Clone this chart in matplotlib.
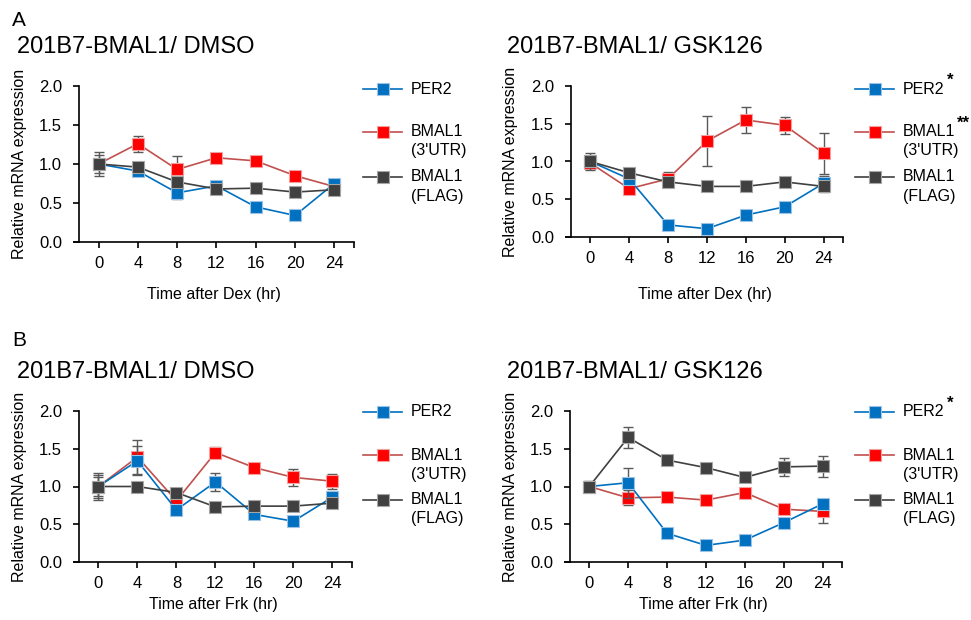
import matplotlib
matplotlib.use('Agg')
import matplotlib.pyplot as plt
from matplotlib.lines import Line2D

plt.rcParams['font.family'] = ['Liberation Sans', 'DejaVu Sans']

W, H = 971, 620

time_hr = [0, 4, 8, 12, 16, 20, 24]
series_names = ['PER2', 'BMAL1\n(3\'UTR)', 'BMAL1\n(FLAG)']

# panel A, DMSO
a_dmso_per2 = [1.00, 0.91, 0.63, 0.72, 0.45, 0.34, 0.75]
a_dmso_per2_err = [0.03, 0.07, 0.08, 0.03, 0.03, 0.03, 0.05]
a_dmso_utr = [1.00, 1.26, 0.93, 1.08, 1.04, 0.85, 0.71]
a_dmso_utr_err = [0.16, 0.10, 0.17, 0.04, 0.03, 0.05, 0.03]
a_dmso_flag = [1.00, 0.96, 0.77, 0.68, 0.69, 0.64, 0.67]
a_dmso_flag_err = [0.11, 0.03, 0.03, 0.03, 0.02, 0.03, 0.04]

# panel A, GSK126
a_gsk_per2 = [1.00, 0.77, 0.16, 0.11, 0.29, 0.40, 0.71]
a_gsk_per2_err = [0.03, 0.03, 0.03, 0.02, 0.03, 0.04, 0.10]
a_gsk_utr = [0.98, 0.64, 0.77, 1.27, 1.55, 1.48, 1.11]
a_gsk_utr_err = [0.08, 0.04, 0.09, 0.33, 0.17, 0.11, 0.27]
a_gsk_flag = [1.00, 0.85, 0.73, 0.67, 0.67, 0.73, 0.67]
a_gsk_flag_err = [0.11, 0.04, 0.03, 0.02, 0.02, 0.03, 0.07]

# panel B, DMSO
b_dmso_per2 = [1.00, 1.34, 0.69, 1.06, 0.63, 0.54, 0.86]
b_dmso_per2_err = [0.15, 0.19, 0.05, 0.12, 0.03, 0.03, 0.04]
b_dmso_utr = [1.00, 1.39, 0.81, 1.45, 1.25, 1.12, 1.07]
b_dmso_utr_err = [0.18, 0.22, 0.05, 0.07, 0.05, 0.11, 0.10]
b_dmso_flag = [1.00, 1.00, 0.92, 0.73, 0.74, 0.74, 0.78]
b_dmso_flag_err = [0.13, 0.02, 0.03, 0.02, 0.02, 0.02, 0.05]

# panel B, GSK126
b_gsk_per2 = [1.00, 1.05, 0.38, 0.22, 0.29, 0.52, 0.77]
b_gsk_per2_err = [0.03, 0.20, 0.04, 0.02, 0.02, 0.03, 0.04]
b_gsk_utr = [1.00, 0.85, 0.86, 0.82, 0.92, 0.70, 0.67]
b_gsk_utr_err = [0.03, 0.10, 0.03, 0.02, 0.03, 0.05, 0.15]
b_gsk_flag = [1.00, 1.65, 1.35, 1.25, 1.12, 1.26, 1.27]
b_gsk_flag_err = [0.07, 0.14, 0.03, 0.03, 0.03, 0.12, 0.14]

# (line colour, marker face, marker edge)
STYLES = {
    'per2': ('#0070C0', '#0070C0', '#9cc3e6'),
    'utr': ('#C0504D', '#FF0000', '#f2a0a0'),
    'flag': ('#404040', '#404040', '#a6a6a6'),
}
ERR_COLOR = '#595959'
MS = 8.2


def px(x, y):
    return x / W, 1 - y / H


def draw_panel(rect, per2, per2_err, utr, utr_err, flag, flag_err, xlabel, xlabel_y, ylabel_x):
    ax = fig.add_axes(rect)
    # draw order: red, blue, grey on top
    for key, vals, errs, z in [('utr', utr, utr_err, 3), ('per2', per2, per2_err, 4),
                               ('flag', flag, flag_err, 5)]:
        lc, mfc, mec = STYLES[key]
        ax.errorbar(time_hr, vals, yerr=errs, fmt='none', ecolor=ERR_COLOR,
                    elinewidth=1.0, capsize=3.5, capthick=1.0, zorder=z - 0.5)
        ax.plot(time_hr, vals, color=lc, lw=1.2, marker='s', ms=MS,
                mfc=mfc, mec=mec, mew=0.8, zorder=z)
    ax.set_xlim(-2.5, 26)
    ax.set_ylim(0, 2.0)
    ax.set_xticks(time_hr + [26])
    ax.set_xticklabels([str(t) for t in time_hr] + [''])
    ax.set_yticks([0, 0.5, 1.0, 1.5, 2.0])
    ax.set_yticklabels(['0.0', '0.5', '1.0', '1.5', '2.0'])
    for s in ['top', 'right']:
        ax.spines[s].set_visible(False)
    ax.spines['left'].set_position(('data', -2))
    ax.spines['left'].set_linewidth(1.2)
    ax.spines['bottom'].set_linewidth(1.2)
    ax.tick_params(axis='x', direction='out', length=4, width=1.2, pad=6, labelsize=12)
    ax.tick_params(axis='y', direction='out', length=4, width=1.2, pad=8, labelsize=12)
    ax.patch.set_alpha(0)
    bb = ax.get_position()
    cx = (bb.x0 + bb.x1) / 2
    fig.text(cx, 1 - xlabel_y / H, xlabel, ha='center', va='center', fontsize=11.5)
    fig.text(ylabel_x / W, (bb.y0 + bb.y1) / 2, 'Relative mRNA expression',
             rotation=90, ha='center', va='center', fontsize=11.5)
    return ax


def draw_legend(x0, y0, stars=('', '', '')):
    renderer = fig.canvas.get_renderer()
    ys = [y0, y0 + 43, y0 + 88]
    for key, y, name, star in zip(['per2', 'utr', 'flag'], ys, series_names, stars):
        lc, mfc, mec = STYLES[key]
        fx0, fy = px(x0, y)
        fx1, _ = px(x0 + 39, y)
        fig.add_artist(Line2D([fx0, fx1], [fy, fy], color=lc, lw=1.2,
                              transform=fig.transFigure))
        fig.add_artist(Line2D([(fx0 + fx1) / 2], [fy], marker='s', ms=MS, mfc=mfc,
                              mec=mec, mew=0.8, transform=fig.transFigure))
        lines = name.split('\n')
        tx, ty = px(x0 + 48, y)
        t = fig.text(tx, ty, lines[0], ha='left', va='center', fontsize=11.5)
        if len(lines) > 1:
            fig.text(tx, 1 - (y + 19) / H, lines[1], ha='left', va='center', fontsize=11.5)
        if star:
            ext = t.get_window_extent(renderer)
            fig.text((ext.x1 + 2) / W, 1 - (y - 9) / H, star, ha='left', va='center',
                     fontsize=12, fontweight='bold')


fig = plt.figure(figsize=(W / 100, H / 100), dpi=100)

draw_panel([74 / W, (H - 242) / H, 280 / W, 156 / H],
           a_dmso_per2, a_dmso_per2_err, a_dmso_utr, a_dmso_utr_err,
           a_dmso_flag, a_dmso_flag_err, 'Time after Dex (hr)', 295, 20)
draw_panel([566 / W, (H - 237) / H, 277 / W, 151 / H],
           a_gsk_per2, a_gsk_per2_err, a_gsk_utr, a_gsk_utr_err,
           a_gsk_flag, a_gsk_flag_err, 'Time after Dex (hr)', 295, 510)
draw_panel([74 / W, (H - 562) / H, 278 / W, 151 / H],
           b_dmso_per2, b_dmso_per2_err, b_dmso_utr, b_dmso_utr_err,
           b_dmso_flag, b_dmso_flag_err, 'Time after Frk (hr)', 605, 20)
draw_panel([565 / W, (H - 562) / H, 277 / W, 151 / H],
           b_gsk_per2, b_gsk_per2_err, b_gsk_utr, b_gsk_utr_err,
           b_gsk_flag, b_gsk_flag_err, 'Time after Frk (hr)', 605, 510)

draw_legend(363, 89)
draw_legend(855, 89, stars=('*', '**', ''))
draw_legend(363, 412)
draw_legend(855, 412, stars=('*', '', ''))

fig.text(12 / W, 1 - 21 / H, 'A', ha='left', va='center', fontsize=15)
fig.text(12 / W, 1 - 341 / H, 'B', ha='left', va='center', fontsize=15)
fig.text(17 / W, 1 - 47 / H, '201B7-BMAL1/ DMSO', ha='left', va='center', fontsize=17)
fig.text(507 / W, 1 - 47 / H, '201B7-BMAL1/ GSK126', ha='left', va='center', fontsize=17)
fig.text(17 / W, 1 - 372 / H, '201B7-BMAL1/ DMSO', ha='left', va='center', fontsize=17)
fig.text(507 / W, 1 - 372 / H, '201B7-BMAL1/ GSK126', ha='left', va='center', fontsize=17)

fig.savefig('out.png', dpi=100)
